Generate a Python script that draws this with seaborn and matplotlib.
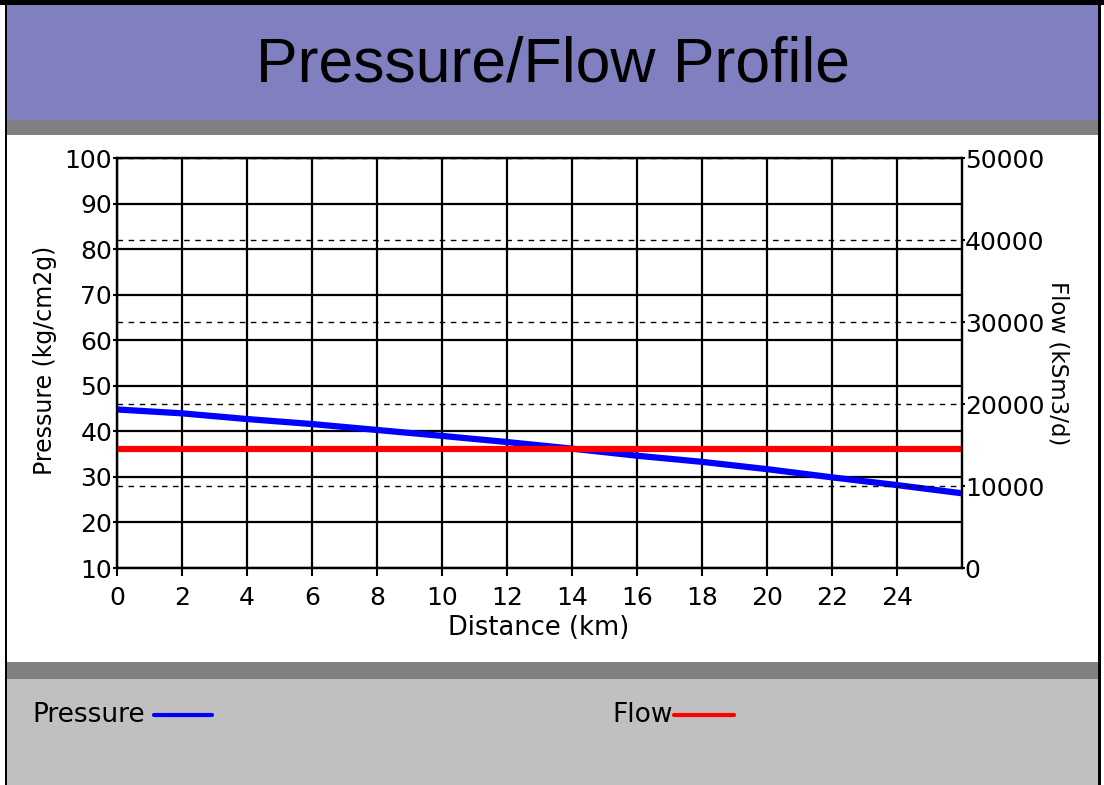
import matplotlib
matplotlib.use("Agg")
import matplotlib.pyplot as plt
import seaborn as sns
from matplotlib.patches import Rectangle
from matplotlib.lines import Line2D
from matplotlib.ticker import FixedLocator, FixedFormatter

# ---- data ----
distance_km = [0, 2, 4, 6, 8, 10, 12, 14, 16, 18, 20, 22, 24, 26]
pressure = [44.8, 43.95, 42.7, 41.6, 40.3, 39.0, 37.65, 36.2, 34.65, 33.3, 31.7, 29.9, 28.2, 26.4]
flow_distance = [0, 26]
flow = [14500, 14500]
x_ticks = [0, 2, 4, 6, 8, 10, 12, 14, 16, 18, 20, 22, 24]
left_ticks = [10, 20, 30, 40, 50, 60, 70, 80, 90, 100]
right_ticks = [0, 10000, 20000, 30000, 40000, 50000]

title = "Pressure/Flow Profile"
x_label = "Distance (km)"
left_label = "Pressure (kg/cm2g)"
right_label = "Flow (kSm3/d)"
legend_names = ["Pressure", "Flow"]

sns.set_theme(style="white")
plt.rcParams["font.family"] = ["DejaVu Sans"]
plt.rcParams["text.color"] = "black"

W, H = 1104, 785
fig = plt.figure(figsize=(W / 100, H / 100), dpi=100)
fig.patch.set_facecolor("white")


def band(x0, y0, x1, y1, color):
    fig.add_artist(Rectangle((x0 / W, 1 - y1 / H), (x1 - x0) / W, (y1 - y0) / H,
                             transform=fig.transFigure, facecolor=color,
                             edgecolor="none", zorder=-10))


band(5, 0, 1101, H, "black")
band(0, 0, W, 5, "black")
band(7, 5, 1098, 120, "#8080C0")
band(7, 120, 1098, 135, "#808080")
band(7, 135, 1098, 662, "white")
band(7, 662, 1098, 679, "#808080")
band(7, 679, 1098, H, "#C0C0C0")

# ---- axes ----
L, R, T, B = 117, 962, 158, 568
ax = fig.add_axes([L / W, 1 - B / H, (R - L) / W, (B - T) / H])
ax.set_facecolor("white")
ax2 = ax.twinx()

sns.lineplot(x=distance_km, y=pressure, ax=ax, color="#0000FF", lw=4.5)
sns.lineplot(x=flow_distance, y=flow, ax=ax2, color="#FF0000", lw=4.5)

ax.set_xlim(0, 26)
ax.set_ylim(10, 100)
ax2.set_ylim(0, 50000)

ax.xaxis.set_major_locator(FixedLocator(x_ticks))
ax.xaxis.set_major_formatter(FixedFormatter([str(v) for v in x_ticks]))
ax.yaxis.set_major_locator(FixedLocator(left_ticks))
ax.yaxis.set_major_formatter(FixedFormatter([str(v) for v in left_ticks]))
ax2.yaxis.set_major_locator(FixedLocator(right_ticks))
ax2.yaxis.set_major_formatter(FixedFormatter([str(v) for v in right_ticks]))

ax.grid(True, color="black", lw=1.6, ls="-")
ax.set_axisbelow(True)
ax2.yaxis.grid(True, color="black", lw=1.0, ls=(0, (4, 4)))
ax2.xaxis.grid(False)

for a in (ax, ax2):
    for s in a.spines.values():
        s.set_color("black")
        s.set_linewidth(1.6)
        s.set_visible(True)

ax.tick_params(axis="x", bottom=True, direction="out", length=6, width=1.5,
               pad=7, labelsize=18, colors="black")
ax.tick_params(axis="y", left=True, direction="out", length=3, width=1.5,
               pad=0.5, labelsize=18, colors="black")
ax2.tick_params(axis="y", right=True, direction="out", length=2, width=1.5,
                pad=0, labelsize=18, colors="black")
ax.set_xlabel("")
ax.set_ylabel("")
ax2.set_ylabel("")

# ---- texts ----
fig.text(553 / W, 1 - 82 / H, title, ha="center", va="baseline",
         fontsize=45, family=["Liberation Sans", "DejaVu Sans"], color="black")
fig.text(539 / W, 1 - 628 / H, x_label, ha="center", va="center",
         fontsize=18.5, color="black")
fig.text(45 / W, 1 - 360 / H, left_label, ha="center", va="center",
         rotation=90, fontsize=17, color="black")
fig.text(1058 / W, 1 - 363 / H, right_label, ha="center", va="center",
         rotation=270, fontsize=16.5, color="black")

# ---- bottom legend ----
fig.text(32 / W, 1 - 715 / H, legend_names[0], ha="left", va="center",
         fontsize=19, color="black")
fig.add_artist(Line2D([154 / W, 212 / W], [1 - 715 / H, 1 - 715 / H],
                      transform=fig.transFigure, color="#0000FF", lw=3,
                      solid_capstyle="round"))
fig.text(612 / W, 1 - 715 / H, legend_names[1], ha="left", va="center",
         fontsize=19, color="black")
fig.add_artist(Line2D([674 / W, 734 / W], [1 - 715 / H, 1 - 715 / H],
                      transform=fig.transFigure, color="#FF0000", lw=3,
                      solid_capstyle="round"))

fig.savefig("out.png", dpi=100, facecolor=fig.get_facecolor())
